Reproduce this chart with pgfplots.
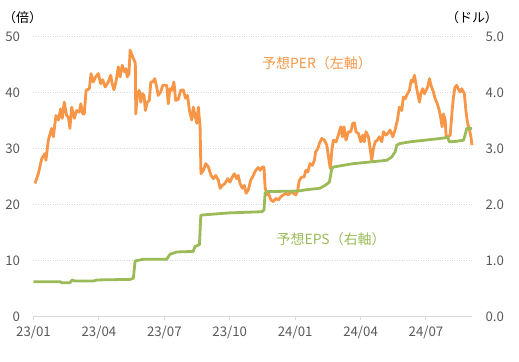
\documentclass[border=0pt]{standalone}
\usepackage{fontspec}
\setmainfont{Noto Sans CJK JP}
\usepackage{pgfplots}
\pgfplotsset{compat=1.18}
\definecolor{perorange}{HTML}{F79646}
\definecolor{epsgreen}{HTML}{9BBB59}
\definecolor{ticktext}{HTML}{595959}
\definecolor{gridc}{HTML}{D9D9D9}
\begin{document}
\begin{tikzpicture}[font=\fontsize{13}{15}\selectfont]
\pgfplotsset{
 common/.style={
  scale only axis, width=438.5bp, height=279.6bp,
  xmin=0, xmax=20.11,
  /pgf/number format/assume math mode=true,
  tick label style={text=ticktext, font=\fontsize{13.3}{15}\selectfont},
  separate axis lines,
  y axis line style={draw=none},
  x axis line style={gridc, line width=1.3bp},
  ytick style={draw=none},
  xtick style={gridc, line width=1bp},
  major tick length=4bp,
  tick align=outside,
  clip=false,
 }
}
\begin{axis}[common,
  axis x line*=bottom, axis y line*=left,
  ymin=0, ymax=50, ytick={0,10,20,30,40,50},
  xtick={0,3,6,9,12,15,18},
  xticklabels={23/01,23/04,23/07,23/10,24/01,24/04,24/07},
  ymajorgrids, grid style={gridc, dotted, line width=1bp},
  yticklabel style={xshift=-6bp},
  xticklabel style={yshift=-2bp},
]
\addplot[perorange, line width=2.8bp, line join=round] coordinates {
(0.07,23.75)(0.22,25.5)(0.38,28.2)(0.53,29.1)(0.57,27.9)(0.68,31.5)(0.83,33.6)(0.91,32.1)
(1.03,35.9)(1.14,35.1)(1.25,37.1)(1.32,35.4)(1.41,38.3)(1.52,35.9)(1.60,35.6)(1.67,33.6)
(1.75,37.4)(1.87,35.4)(1.98,36.8)(2.10,36.5)(2.17,38.0)(2.26,36.2)(2.33,36.2)(2.41,40.4)
(2.56,40.7)(2.64,43.4)(2.74,41.9)(2.85,42.8)(2.97,43.4)(3.08,41.6)(3.17,42.3)(3.29,41.0)
(3.43,41.9)(3.54,43.1)(3.61,41.6)(3.69,40.5)(3.78,41.9)(3.89,44.6)(3.97,42.8)(4.07,44.9)
(4.17,43.7)(4.24,44.3)(4.30,42.8)(4.38,43.4)(4.43,47.6)(4.55,46.4)(4.67,45.3)(4.69,36.2)
(4.76,39.8)(4.85,40.4)(4.92,38.3)(4.99,39.8)(5.07,39.5)(5.13,36.8)(5.22,38.3)(5.31,38.6)
(5.38,41.9)(5.47,41.9)(5.56,42.5)(5.65,41.0)(5.72,39.5)(5.83,40.1)(5.93,41.3)(6.11,41.3)
(6.18,38.0)(6.26,40.7)(6.34,40.4)(6.44,41.9)(6.52,38.6)(6.64,38.8)(6.75,40.4)(6.87,40.5)
(6.97,39.0)(7.06,39.5)(7.16,36.6)(7.26,35.1)(7.33,37.4)(7.41,35.9)(7.49,34.5)(7.56,37.4)
(7.64,33.9)(7.68,25.5)(7.79,26.1)(7.90,27.3)(8.02,26.7)(8.14,25.2)(8.25,24.6)(8.36,25.2)
(8.48,24.3)(8.56,22.9)(8.66,23.4)(8.78,23.75)(8.91,24.6)(9.01,24.0)(9.12,24.9)(9.21,25.5)
(9.32,24.6)(9.39,25.2)(9.47,23.75)(9.58,22.9)(9.67,23.4)(9.75,22.0)(9.85,22.6)(9.96,24.3)
(10.08,25.2)(10.19,26.1)(10.31,26.6)(10.39,26.1)(10.50,26.7)(10.57,26.7)(10.62,23.1)(10.70,21.7)
(10.77,22.0)(10.89,20.8)(11.00,20.5)(11.11,21.1)(11.23,20.8)(11.34,21.4)(11.46,21.7)(11.57,22.0)
(11.69,21.7)(11.81,22.3)(11.92,22.0)(12.03,21.7)(12.12,22.6)(12.19,24.3)(12.30,24.9)(12.41,24.9)
(12.49,26.1)(12.58,25.8)(12.68,27.3)(12.79,27.0)(12.88,27.9)(12.94,29.4)(13.04,30.0)(13.11,30.9)
(13.22,31.8)(13.34,31.5)(13.45,30.6)(13.53,28.5)(13.61,26.4)(13.68,29.5)(13.75,31.5)(13.88,31.2)
(13.98,32.4)(14.09,33.9)(14.17,32.1)(14.24,33.9)(14.33,31.5)(14.44,33.0)(14.55,33.0)(14.64,34.5)
(14.72,34.6)(14.79,33.0)(14.90,32.7)(15.01,31.2)(15.10,32.4)(15.17,31.2)(15.25,33.0)(15.36,32.1)
(15.44,30.0)(15.51,27.9)(15.59,30.0)(15.67,31.2)(15.77,31.5)(15.86,32.1)(15.97,31.2)(16.05,33.0)
(16.16,32.4)(16.25,32.7)(16.35,33.3)(16.48,32.1)(16.58,33.3)(16.69,35.1)(16.78,37.4)(16.89,36.8)
(16.96,39.2)(17.04,38.9)(17.15,39.8)(17.24,40.4)(17.32,42.2)(17.39,41.9)(17.47,43.1)(17.55,41.3)
(17.62,39.8)(17.70,38.3)(17.78,40.1)(17.85,40.7)(17.93,39.8)(18.00,40.4)(18.08,41.0)(18.16,42.5)
(18.23,41.3)(18.34,40.1)(18.42,38.9)(18.52,38.0)(18.61,36.8)(18.68,35.4)(18.74,33.9)(18.80,36.2)
(18.88,35.1)(18.92,32.4)(19.00,32.1)(19.11,32.4)(19.20,36.8)(19.26,39.2)(19.33,41.0)(19.41,41.3)
(19.48,40.7)(19.56,40.1)(19.64,40.7)(19.72,40.1)(19.76,39.8)(19.83,36.8)(19.90,34.7)(19.98,33.6)
(20.06,32.1)(20.11,30.6)
};
\node[anchor=south, text=black] at (axis description cs:-0.025,1.035) {（倍）};
\node[text=perorange, font=\fontsize{14}{16}\selectfont] at (axis cs:13.0,45.3) {予想PER（左軸）};
\node[text=epsgreen, font=\fontsize{14}{16}\selectfont] at (axis cs:13.65,13.7) {予想EPS（右軸）};
\end{axis}
\begin{axis}[common,
  axis x line=none, axis y line*=right,
  ymin=0, ymax=5, ytick={0,1,2,3,4,5},
  yticklabel style={/pgf/number format/fixed, /pgf/number format/fixed zerofill, /pgf/number format/precision=1, xshift=6bp},
]
\addplot[epsgreen, line width=2.8bp, line join=round] coordinates {
(0,0.618)(1.22,0.618)(1.31,0.60)(1.67,0.60)(1.77,0.65)(1.90,0.63)(2.73,0.63)(2.91,0.65)
(4.43,0.66)(4.58,0.68)(4.66,0.99)(5.04,1.02)(6.11,1.02)(6.26,1.11)(6.57,1.15)(7.32,1.16)
(7.41,1.25)(7.61,1.28)(7.67,1.79)(7.68,1.81)(9.01,1.85)(10.47,1.87)(10.57,1.90)(10.62,2.20)
(10.70,2.23)(12.15,2.24)(12.45,2.26)(13.14,2.29)(13.37,2.34)(13.57,2.40)(13.68,2.64)(13.75,2.67)
(14.21,2.70)(14.67,2.73)(15.44,2.76)(16.20,2.79)(16.43,2.85)(16.58,2.94)(16.66,3.06)(16.81,3.09)
(17.27,3.12)(17.73,3.14)(18.19,3.16)(18.65,3.18)(19.00,3.20)(19.07,3.12)(19.41,3.13)(19.72,3.15)
(19.79,3.24)(19.87,3.36)(20.11,3.36)
};
\node[anchor=south, text=black] at (axis description cs:1.0,1.035) {（ドル）};
\end{axis}
\pgfresetboundingbox
\path[use as bounding box] (-33.5bp,-45.7bp) rectangle (485.5bp,316.3bp);
\end{tikzpicture}
\end{document}
